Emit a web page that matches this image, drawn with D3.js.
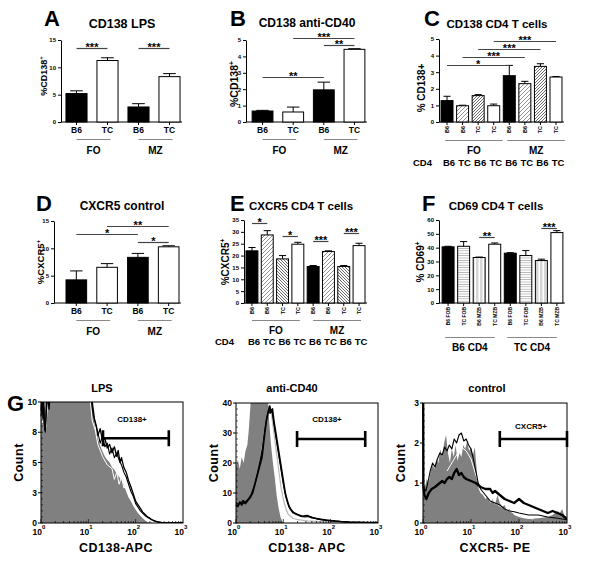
<!DOCTYPE html>
<html><head><meta charset="utf-8">
<script src="https://cdn.jsdelivr.net/npm/d3@7"></script>
<style>
body{margin:0;background:#fff}
svg{display:block}
text{font-family:"Liberation Sans",Arial,sans-serif;font-weight:bold;fill:#000}
</style>
</head><body>
<svg id="c" width="600" height="571"></svg>
<script>
// ---------------- DATA ----------------
const catsA=["B6","TC","B6","TC"];
const valuesA=[5.2,11.25,2.75,8.3];
const errorsA=[0.5,0.5,0.6,0.55];
const groupsA=["FO","MZ"];
const sigA=[{a:0,b:1,label:"***",at:13.5},{a:2,b:3,label:"***",at:13.5}];
const ticksA=[0,5,10,15];

const catsB=["B6","TC","B6","TC"];
const valuesB=[0.67,0.61,1.96,4.43];
const errorsB=[0.04,0.3,0.47,0.04];
const groupsB=["FO","MZ"];
const sigB=[{a:0,b:2,label:"**",at:2.75},{a:1,b:3,label:"***",at:5.1},{a:2,b:3,label:"**",at:4.7}];
const ticksB=[0,1,2,3,4,5];

const catsC=["B6","B6","TC","TC","B6","B6","TC","TC"];
const cd4C=["B6","TC","B6","TC","B6","TC","B6","TC"];
const valuesC=[1.29,0.98,1.59,0.98,2.79,2.31,3.35,2.71];
const errorsC=[0.26,0.03,0.06,0.1,0.62,0.14,0.16,0.03];
const groupsC=["FO","MZ"];
const sigC=[{a:0,b:4,label:"*",at:3.43},{a:1,b:5,label:"***",at:3.92},{a:2,b:6,label:"***",at:4.4},{a:3,b:7,label:"***",at:4.88}];
const ticksC=[0,1,2,3,4,5];

const catsD=["B6","TC","B6","TC"];
const valuesD=[4.23,6.53,8.35,10.28];
const errorsD=[1.64,0.67,0.72,0.19];
const groupsD=["FO","MZ"];
const sigD=[{a:0,b:2,label:"*",at:12.6},{a:1,b:3,label:"**",at:14.1},{a:2,b:3,label:"*",at:11.2}];
const ticksD=[0,5,10,15];

const catsE=["B6","B6","TC","TC","B6","B6","TC","TC"];
const cd4E=["B6","TC","B6","TC","B6","TC","B6","TC"];
const valuesE=[22.0,28.7,18.6,24.8,15.4,21.7,15.4,24.2];
const errorsE=[1.4,1.8,1.4,0.8,0.4,0.3,0.4,1.0];
const groupsE=["FO","MZ"];
const sigE=[{a:0,b:1,label:"*",at:33.7},{a:2,b:3,label:"*",at:28.3},{a:4,b:5,label:"***",at:26.1},{a:6,b:7,label:"***",at:29.5}];
const ticksE=[0,5,10,15,20,25,30,35];

const catsF=["B6 FOB","TC FOB","B6 MZB","TC MZB","B6 FOB","TC FOB","B6 MZB","TC MZB"];
const valuesF=[40.6,41.0,32.9,42.5,36.0,34.3,30.7,50.9];
const errorsF=[0.4,3.4,0.3,0.9,0.4,3.6,1.0,1.4];
const groupsF=["B6 CD4","TC CD4"];
const sigF=[{a:2,b:3,label:"**",at:47.7},{a:6,b:7,label:"***",at:54.2}];
const ticksF=[0,10,20,30,40,50,60];

// histogram data: [log10 fluorescence, count]
const grayLPS=[[0,12],[1.0,12],[1.05,11],[1.1,9],[1.15,7.6],[1.2,7],[1.25,6.4],[1.3,5.9],[1.35,5.5],[1.4,5.2],[1.45,5],[1.5,4.6],[1.55,4.4],[1.6,4.1],[1.65,3.8],[1.7,3.6],[1.75,3.1],[1.8,2.6],[1.85,2.1],[1.9,1.8],[1.95,1.4],[2.0,1.1],[2.05,0.8],[2.1,0.6],[2.15,0.4],[2.2,0.2],[2.27,0.05],[2.35,0],[3,0]];
const blackLPS1=[[0,9.3],[0.02,10.4],[0.04,8.6],[0.06,9.6],[0.08,7.7],[0.1,8.4],[0.12,9.8],[0.14,10.6],[0.17,9.4],[0.2,11],[0.3,12],[1.0,12],[1.05,11],[1.1,9.5],[1.13,8.6],[1.17,8],[1.2,7.2],[1.25,7.8],[1.3,6.8],[1.35,7],[1.4,6.2],[1.45,6.5],[1.5,5.8],[1.55,6.3],[1.6,5.5],[1.63,6.0],[1.67,5.0],[1.7,5.4],[1.75,4.6],[1.8,4.2],[1.85,3.5],[1.9,3.0],[1.95,2.4],[2.0,1.8],[2.05,1.5],[2.1,1.2],[2.15,0.9],[2.2,0.7],[2.25,0.5],[2.3,0.4],[2.35,0.25],[2.45,0.12],[2.55,0.05],[2.7,0.03],[3,0.02]];
const blackLPS2=[[0,8.8],[0.02,9.8],[0.05,10.3],[0.07,8.2],[0.09,7.5],[0.11,9.1],[0.13,10.2],[0.16,9.9],[0.19,10.8],[0.25,12],[1.0,12],[1.05,10.5],[1.1,9],[1.15,8.2],[1.2,7.5],[1.25,6.6],[1.3,7.2],[1.35,6.3],[1.4,6.6],[1.45,5.7],[1.5,6.2],[1.55,5.4],[1.6,5.8],[1.65,5.2],[1.7,4.8],[1.75,4.2],[1.8,3.8],[1.85,3.2],[1.9,2.6],[1.95,2.2],[2.0,1.6],[2.05,1.3],[2.1,1.0],[2.15,0.8],[2.2,0.6],[2.3,0.35],[2.4,0.15],[2.5,0.05],[3,0.02]];
const whiteLPS=[[0.01,9.5],[0.03,8.3],[0.05,9.1],[0.08,8.9],[0.1,7.9],[0.13,9.3],[0.16,10.8],[0.2,12],[1.0,12],[1.08,8.5],[1.15,7.6],[1.2,6.5],[1.3,5.5],[1.4,4.8],[1.5,4.5],[1.55,3.6],[1.6,4.2],[1.65,3.2],[1.7,3.8],[1.75,2.9],[1.8,3.0],[1.85,2.4],[1.9,2.0],[2.0,1.4],[2.1,0.9],[2.2,0.5],[2.3,0.3],[2.4,0.15],[2.5,0.05]];

const grayCD40=[[0,19],[0.04,21],[0.08,18],[0.12,22],[0.16,20],[0.2,24],[0.24,26],[0.27,31],[0.3,38],[0.33,45],[0.66,45],[0.7,34],[0.74,26],[0.78,20],[0.82,15],[0.86,9],[0.9,5],[0.94,2],[0.98,0.5],[1.02,0],[3,0]];
const blackCD40a=[[0,6],[0.04,5.5],[0.08,7],[0.12,6],[0.16,7],[0.2,6.5],[0.25,7.5],[0.3,8.5],[0.35,10],[0.4,13],[0.45,16],[0.5,19],[0.55,22],[0.6,29],[0.64,34],[0.68,37],[0.71,39],[0.74,37],[0.77,38],[0.8,34],[0.84,30],[0.88,26],[0.92,22],[0.96,18],[1.0,14],[1.04,10],[1.08,7.5],[1.12,5.5],[1.16,4.5],[1.2,3.5],[1.3,2.8],[1.4,2.2],[1.5,2.5],[1.6,1.8],[1.7,1.5],[1.8,1.2],[1.9,1.0],[2.0,0.8],[2.2,0.5],[2.4,0.3],[2.6,0.2],[2.8,0.1],[3,0.1]];
const blackCD40b=[[0,6.8],[0.05,6.2],[0.1,6.6],[0.15,7.5],[0.2,7],[0.26,8],[0.32,9.5],[0.38,12],[0.44,15.5],[0.5,20],[0.56,25],[0.61,31],[0.65,35],[0.69,38],[0.72,36.5],[0.76,37.5],[0.8,33],[0.85,28],[0.9,23],[0.95,18],[1.0,13],[1.05,9],[1.1,6.5],[1.15,4.5],[1.25,3.2],[1.35,2.4],[1.45,2.0],[1.55,2.2],[1.7,1.4],[1.9,0.9],[2.1,0.6],[2.4,0.3],[2.7,0.15],[3,0.1]];
const lightCD40=[[0.5,20],[0.6,30],[0.68,38],[0.72,39],[0.76,35],[0.8,30],[0.85,24],[0.9,18],[0.95,12],[1.0,8],[1.05,5],[1.1,3],[1.2,1.6],[1.3,1.1],[1.5,0.7],[2,0.3],[2.5,0.15]];

const grayCtrl=[[0,0.8],[0.04,0.9],[0.08,1.1],[0.12,1.0],[0.16,1.3],[0.2,1.45],[0.24,1.35],[0.28,1.6],[0.32,1.5],[0.36,1.85],[0.4,1.65],[0.44,2.0],[0.48,2.2],[0.52,1.75],[0.56,1.5],[0.6,1.85],[0.64,1.65],[0.68,1.95],[0.72,1.55],[0.76,1.75],[0.8,1.65],[0.84,1.95],[0.88,1.85],[0.92,2.05],[0.96,1.8],[1.0,1.9],[1.04,1.7],[1.08,1.9],[1.12,1.3],[1.16,0.85],[1.2,0.75],[1.25,0.7],[1.3,0.6],[1.35,0.65],[1.4,0.5],[1.45,0.6],[1.5,0.45],[1.55,0.7],[1.6,0.5],[1.65,0.4],[1.7,0.45],[1.75,0.3],[1.8,0.35],[1.9,0.2],[2.0,0.15],[2.1,0.12],[2.2,0.1],[2.4,0.12],[2.6,0.15],[2.7,0.2],[2.8,0.3],[2.85,0.25],[2.9,0.35],[2.95,0.15],[3,0.1]];
const thinCtrl=[[0,1.05],[0.03,0.85],[0.06,0.8],[0.1,1.0],[0.15,1.3],[0.2,1.5],[0.25,1.4],[0.3,1.6],[0.35,1.75],[0.4,1.7],[0.45,1.9],[0.5,1.8],[0.55,1.95],[0.6,1.85],[0.65,2.1],[0.7,2.0],[0.75,2.2],[0.8,2.25],[0.85,2.05],[0.9,2.1],[0.95,1.95],[1.0,1.85],[1.05,1.6],[1.1,1.3],[1.15,1.0],[1.2,0.85],[1.3,0.7],[1.4,0.55],[1.5,0.5],[1.6,0.45],[1.7,0.35],[1.8,0.3],[1.9,0.28],[2.0,0.25],[2.2,0.2],[2.4,0.2],[2.6,0.15],[2.8,0.12],[3,0.08]];
const thickCtrl=[[0,3.2],[0.004,3.2],[0.008,0.9],[0.03,0.7],[0.07,0.6],[0.12,0.75],[0.18,0.85],[0.25,0.9],[0.3,0.95],[0.35,1.0],[0.4,1.05],[0.45,1.0],[0.5,1.1],[0.55,1.15],[0.6,1.1],[0.65,1.25],[0.7,1.35],[0.75,1.2],[0.8,1.25],[0.85,1.15],[0.9,1.1],[1.0,1.05],[1.1,1.0],[1.2,0.9],[1.3,0.85],[1.4,0.85],[1.45,0.75],[1.5,0.8],[1.6,0.7],[1.7,0.6],[1.8,0.55],[1.9,0.5],[2.0,0.6],[2.1,0.5],[2.2,0.45],[2.3,0.4],[2.4,0.35],[2.5,0.3],[2.6,0.25],[2.7,0.3],[2.8,0.25],[2.9,0.2],[3,0.1]];
const whiteCtrl=[[0.5,1.3],[0.6,1.5],[0.7,1.7],[0.8,1.9],[0.9,1.8],[1.0,1.6],[1.1,1.2],[1.2,0.9],[1.3,0.7],[1.5,0.5],[1.7,0.35],[1.9,0.25],[2.1,0.15],[2.3,0.1]];

// ---------------- RENDER ----------------
const svg=d3.select("#c");
const defs=svg.append("defs");
function pat(id,w,h,bg,paths,stroke,sw){
  const p=defs.append("pattern").attr("id",id).attr("patternUnits","userSpaceOnUse").attr("width",w).attr("height",h);
  p.append("rect").attr("width",w).attr("height",h).attr("fill",bg);
  p.append("path").attr("d",paths).attr("stroke",stroke).attr("stroke-width",sw).attr("fill","none");
}
pat("diagA",4,4,"#fff","M-1,1 l2,-2 M0,4 l4,-4 M3,5 l2,-2","#666",0.7);
pat("diagB",3,3,"#fff","M-1,1 l2,-2 M0,3 l3,-3 M2,4 l2,-2","#444",0.8);
pat("diagC",3,3,"#fff","M-1,2 l2,2 M0,0 l3,3 M2,-1 l2,2","#444",0.8);
pat("horA",4,2.4,"#fff","M0,1.2 h4","#999",0.7);
pat("horB",4,2,"#fff","M0,1 h2.5","#888",0.7);

function barPanel(p){
  const g=svg.append("g");
  const n=p.cats.length;
  const x=d3.scaleBand().domain(d3.range(n)).range([p.x0,p.x1]).paddingInner(p.padIn).paddingOuter(p.padOut);
  const y=d3.scaleLinear().domain([0,p.yMax]).range([p.yBot,p.yTop]);
  const cx=i=>x(i)+x.bandwidth()/2;
  // y axis
  const ya=g.append("g").attr("transform",`translate(${p.x0},0)`)
    .call(d3.axisLeft(y).tickValues(p.ticks).tickFormat(d3.format("d")).tickSize(3).tickSizeOuter(0).tickPadding(2));
  ya.selectAll("text").attr("font-size",6).attr("font-family",null).attr("font-weight","bold");
  ya.attr("font-family",null);
  ya.selectAll("path,line").attr("stroke","#000").attr("stroke-width",1);
  // x axis line
  const xEnd=x(n-1)+x.bandwidth()+2;
  g.append("line").attr("x1",p.x0).attr("x2",xEnd).attr("y1",p.yBot).attr("y2",p.yBot).attr("stroke","#000");
  g.selectAll(".xt").data(d3.range(n)).enter().append("line")
    .attr("x1",cx).attr("x2",cx).attr("y1",p.yBot).attr("y2",p.yBot+3).attr("stroke","#000");
  // error bars
  const cw=x.bandwidth()*0.3;
  g.selectAll(".eb").data(d3.range(n)).enter().append("path")
    .attr("d",i=>`M${cx(i)},${y(p.vals[i])} V${y(p.vals[i]+p.errs[i])} M${cx(i)-cw},${y(p.vals[i]+p.errs[i])} H${cx(i)+cw}`)
    .attr("stroke","#000").attr("stroke-width",1).attr("fill","none");
  // bars
  g.selectAll(".bar").data(d3.range(n)).enter().append("rect")
    .attr("x",i=>x(i)).attr("width",x.bandwidth())
    .attr("y",i=>y(p.vals[i])).attr("height",i=>p.yBot-y(p.vals[i]))
    .attr("fill",i=>p.fills[i]).attr("stroke","#000").attr("stroke-width",1);
  // significance
  p.sigs.forEach(s=>{
    const yy=Math.round(y(s.at))+0.5;
    g.append("line").attr("x1",cx(s.a)).attr("x2",cx(s.b)).attr("y1",yy).attr("y2",yy).attr("stroke","#444").attr("stroke-width",1.2);
    g.append("text").attr("x",(cx(s.a)+cx(s.b))/2).attr("y",yy+2).attr("text-anchor","middle").attr("font-size",11).text(s.label);
  });
  // x labels
  if(p.rot){
    g.selectAll(".xl").data(d3.range(n)).enter().append("text")
      .attr("transform",i=>`translate(${cx(i)+2},${p.yBot+4}) rotate(-90)`)
      .attr("text-anchor","end").attr("font-size",p.rotSize).text(i=>p.cats[i]);
  } else {
    g.selectAll(".xl").data(d3.range(n)).enter().append("text")
      .attr("x",cx).attr("y",p.yBot+11).attr("text-anchor","middle").attr("font-size",8.5).text(i=>p.cats[i]);
  }
  // groups
  const half=n/2;
  p.groups.forEach((gr,k)=>{
    const a=cx(k*half)+p.gl[0], b=cx(k*half+half-1)+p.gl[1];
    g.append("line").attr("x1",a).attr("x2",b).attr("y1",p.gy).attr("y2",p.gy).attr("stroke","#888").attr("stroke-width",1.2);
    g.append("text").attr("x",(a+b)/2).attr("y",p.gty).attr("text-anchor","middle").attr("font-size",10).text(gr);
  });
  if(p.cd4){
    g.append("text").attr("x",p.cd4x).attr("y",p.cd4y).attr("font-size",9.5).text("CD4");
    g.selectAll(".cd").data(d3.range(n)).enter().append("text")
      .attr("x",i=>cx(i)+2).attr("y",p.cd4y).attr("text-anchor","middle").attr("font-size",9.5).text(i=>p.cd4[i]);
  }
  // y label
  const yl=g.append("text").attr("transform",`translate(${p.ylx},${p.yly}) rotate(-90)`).attr("text-anchor","middle").attr("font-size",p.ylSize);
  yl.append("tspan").text(p.ylabel);
  if(p.ysup) yl.append("tspan").attr("font-size",p.ylSize*0.65).attr("dy",-p.ylSize*0.4).text("+");
  // title and letter
  g.append("text").attr("x",p.tx).attr("y",p.ty).attr("text-anchor","middle").attr("font-size",p.tSize).text(p.title);
  g.append("text").attr("x",p.lx).attr("y",p.ly).attr("font-size",22).text(p.letter);
}

const K="black", W="white";
barPanel({letter:"A",lx:44,ly:26,title:"CD138 LPS",tx:122,ty:28,tSize:12.5,
  cats:catsA,vals:valuesA,errs:errorsA,sigs:sigA,groups:groupsA,ticks:ticksA,yMax:15,
  x0:61,x1:185,yTop:40,yBot:122,padIn:0.32,padOut:0.16,fills:[K,W,K,W],
  gl:[0,3],gy:139.5,gty:154,ylabel:"%CD138",ysup:true,ylx:47,yly:76,ylSize:9});
barPanel({letter:"B",lx:230,ly:26,title:"CD138 anti-CD40",tx:307,ty:27,tSize:12,
  cats:catsB,vals:valuesB,errs:errorsB,sigs:sigB,groups:groupsB,ticks:ticksB,yMax:5,
  x0:246,x1:371,yTop:40,yBot:122,padIn:0.32,padOut:0.2,fills:[K,W,K,W],
  gl:[0,3],gy:139.5,gty:154,ylabel:"%CD138",ysup:true,ylx:238,yly:84,ylSize:10.5});
barPanel({letter:"C",lx:424,ly:26,title:"CD138 CD4 T cells",tx:497,ty:28,tSize:11.5,
  cats:catsC,vals:valuesC,errs:errorsC,sigs:sigC,groups:groupsC,ticks:ticksC,yMax:5,
  x0:439,x1:564,yTop:39,yBot:122,padIn:0.23,padOut:0.13,fills:[K,"url(#diagA)","url(#diagB)",W,K,"url(#diagA)","url(#diagB)",W],
  rot:true,rotSize:5.5,gl:[-2,9],gy:140.5,gty:154,cd4:cd4C,cd4x:413,cd4y:166,
  ylabel:"% CD138+",ysup:false,ylx:425,yly:88,ylSize:10});
barPanel({letter:"D",lx:36,ly:211,title:"CXCR5 control",tx:122,ty:210,tSize:12,
  cats:catsD,vals:valuesD,errs:errorsD,sigs:sigD,groups:groupsD,ticks:ticksD,yMax:15,
  x0:54,x1:191,yTop:221,yBot:303,padIn:0.33,padOut:0.39,fills:[K,W,K,W],
  gl:[0,3],gy:320.5,gty:335,ylabel:"%CXCR5",ysup:true,ylx:44,yly:262,ylSize:9.5});
barPanel({letter:"E",lx:230,ly:211,title:"CXCR5 CD4 T cells",tx:301,ty:210,tSize:11.5,
  cats:catsE,vals:valuesE,errs:errorsE,sigs:sigE,groups:groupsE,ticks:ticksE,yMax:35,
  x0:244,x1:367,yTop:220,yBot:303,padIn:0.22,padOut:0.13,fills:[K,"url(#diagA)","url(#diagC)",W,K,"url(#diagA)","url(#diagC)",W],
  rot:true,rotSize:5.5,gl:[0,2],gy:320.5,gty:334,cd4:cd4E,cd4x:215,cd4y:345,
  ylabel:"%CXCR5",ysup:true,ylx:229,yly:262,ylSize:10});
barPanel({letter:"F",lx:422,ly:211,title:"CD69 CD4 T cells",tx:496,ty:210,tSize:11.5,
  cats:catsF,vals:valuesF,errs:errorsF,sigs:sigF,groups:groupsF,ticks:ticksF,yMax:60,
  x0:439,x1:566,yTop:220,yBot:303,padIn:0.23,padOut:0.2,fills:[K,"url(#horA)","url(#horB)",W,K,"url(#horA)","url(#horB)",W],
  rot:true,rotSize:5,gl:[-3,0],gy:337.5,gty:351,
  ylabel:"% CD69",ysup:true,ylx:424,yly:262,ylSize:10});

// ---------------- HISTOGRAMS ----------------
let clipN=0;
function histPanel(h){
  const g=svg.append("g");
  const x=d3.scaleLinear().domain([0,3]).range([h.x0,h.x1]);
  const y=d3.scaleLinear().domain([0,h.yMax]).range([h.yBot,h.yTop]);
  const cid="clip"+(clipN++);
  defs.append("clipPath").attr("id",cid).append("rect").attr("x",h.x0-2).attr("y",h.yTop).attr("width",h.x1-h.x0+2).attr("height",h.yBot-h.yTop);
  const pg=g.append("g").attr("clip-path",`url(#${cid})`);
  pg.append("path").datum(h.fill).attr("d",d3.area().x(d=>x(d[0])).y0(h.yBot).y1(d=>y(d[1]))).attr("fill","#808080");
  h.lines.forEach(l=>{
    pg.append("path").datum(l.data).attr("d",d3.line().x(d=>x(d[0])).y(d=>y(d[1])))
      .attr("fill","none").attr("stroke",l.color).attr("stroke-width",l.w).attr("stroke-linejoin","round");
  });
  g.append("rect").attr("x",h.x0).attr("y",h.yTop).attr("width",h.x1-h.x0).attr("height",h.yBot-h.yTop)
    .attr("fill","none").attr("stroke","#000").attr("stroke-width",1);
  // y ticks
  h.yt.forEach((v,i)=>{
    g.append("line").attr("x1",h.x0-3).attr("x2",h.x0).attr("y1",y(v)).attr("y2",y(v)).attr("stroke","#000");
    g.append("text").attr("x",h.x0-4).attr("y",y(v)+3).attr("text-anchor","end").attr("font-size",8.5).text(h.ytl[i]);
  });
  // minor y ticks inside
  d3.range(0,h.yMax,h.yMax/20).forEach(v=>{
    g.append("line").attr("x1",h.x0).attr("x2",h.x0+2).attr("y1",y(v)).attr("y2",y(v)).attr("stroke","#000").attr("stroke-width",0.6);
  });
  // x log ticks
  [0,1,2].forEach(dec=>{
    d3.range(1,10).forEach(m=>{
      const v=dec+Math.log10(m);
      g.append("line").attr("x1",x(v)).attr("x2",x(v)).attr("y1",h.yBot).attr("y2",h.yBot-(m===1?4:2)).attr("stroke","#000").attr("stroke-width",0.7);
    });
  });
  [0,1,2,3].forEach(dec=>{
    g.append("text").attr("x",x(dec)+1).attr("y",h.yBot+12).attr("text-anchor","end").attr("font-size",8.5).text("10");
    g.append("text").attr("x",x(dec)+1).attr("y",h.yBot+6).attr("font-size",6).text(dec);
  });
  // gate
  const gx0=x(h.gate[0]), gx1=x(h.gate[1]), gy=y(h.gate[2]);
  g.append("path").attr("d",`M${gx0},${gy} H${gx1} M${gx0},${gy-8} V${gy+8} M${gx1},${gy-8} V${gy+8}`).attr("stroke","#000").attr("stroke-width",2.6).attr("fill","none");
  g.append("text").attr("x",h.gtx).attr("y",h.gty).attr("text-anchor","middle").attr("font-size",8).text(h.gtext);
  // labels
  g.append("text").attr("x",h.tx).attr("y",392).attr("text-anchor","middle").attr("font-size",11).text(h.title);
  g.append("text").attr("x",(h.x0+h.x1)/2+h.xlo).attr("y",552).attr("text-anchor","middle").attr("font-size",12.5).attr("letter-spacing",0.5).text(h.xlabel);
  g.append("text").attr("transform",`translate(${h.cx},${(h.yTop+h.yBot)/2}) rotate(-90)`).attr("text-anchor","middle").attr("font-size",12.5).attr("letter-spacing",0.5).text("Count");
}

histPanel({x0:41,x1:183,yTop:402,yBot:523,yMax:10,yt:[0,2.5,5,7.5,10],ytl:["0","3","5","8","10"],
  fill:grayLPS,lines:[{data:whiteLPS,color:"#fff",w:1},{data:blackLPS2,color:"#000",w:1.1},{data:blackLPS1,color:"#000",w:1.3}],
  gate:[1.31,2.7,7.0],gtext:"CD138+",gtx:132,gty:422,title:"LPS",tx:102,xlabel:"CD138-APC",xlo:4,cx:23});
histPanel({x0:236,x1:378,yTop:403,yBot:523,yMax:40,yt:[0,10,20,30,40],ytl:["0","10","20","30","40"],
  fill:grayCD40,lines:[{data:lightCD40,color:"#bbb",w:1.2},{data:blackCD40b,color:"#000",w:1.2},{data:blackCD40a,color:"#000",w:1.7}],
  gate:[1.29,2.73,28],gtext:"CD138+",gtx:327,gty:422,title:"anti-CD40",tx:292,xlabel:"CD138- APC",xlo:0,cx:218});
histPanel({x0:423,x1:567,yTop:403,yBot:523,yMax:3,yt:[0,1,2,3],ytl:["0","1","2","3"],
  fill:grayCtrl,lines:[{data:whiteCtrl,color:"#fff",w:1},{data:thinCtrl,color:"#000",w:1.1},{data:thickCtrl,color:"#000",w:2.3}],
  gate:[1.6,3.0,2.1],gtext:"CXCR5+",gtx:531,gty:429,title:"control",tx:487,xlabel:"CXCR5- PE",xlo:0,cx:405});
svg.append("text").attr("x",7).attr("y",411).attr("font-size",22).text("G");
</script>
</body></html>
